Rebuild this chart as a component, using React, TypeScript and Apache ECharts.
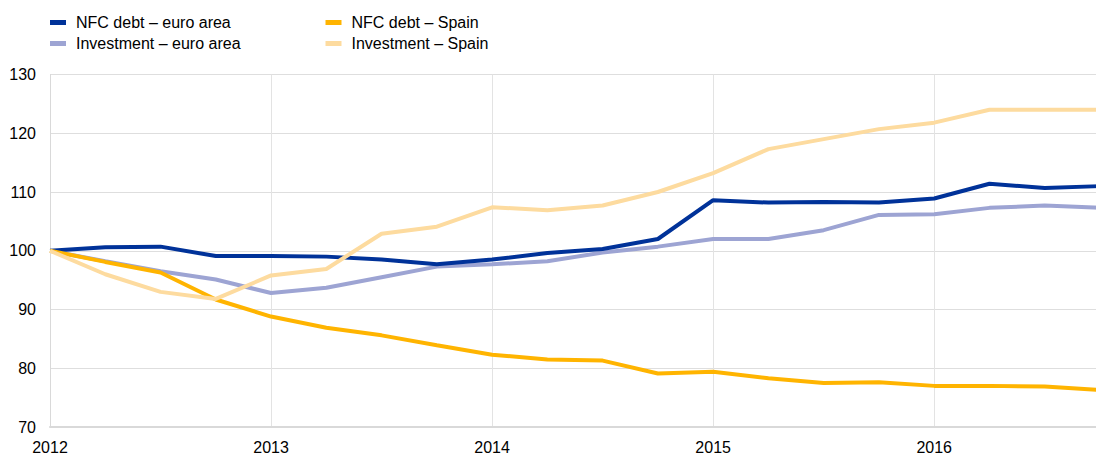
import React, { useEffect, useRef } from "react";
import * as echarts from "echarts";

const startYear = 2012;
const quarterStep = 0.25;
const yTicks = { min: 70, max: 130, interval: 10 };
const xTicks = { min: 2012, max: 2016.75, interval: 1 };

const nfcDebtEuroArea = [100, 100.6, 100.7, 99.1, 99.1, 99.0, 98.5, 97.7, 98.5, 99.6, 100.3, 102.0, 108.6, 108.2, 108.3, 108.2, 108.9, 111.4, 110.7, 111.0];
const investmentEuroArea = [100, 98.2, 96.5, 95.1, 92.8, 93.7, 95.5, 97.3, 97.7, 98.2, 99.7, 100.7, 102.0, 102.0, 103.5, 106.1, 106.2, 107.3, 107.7, 107.3];
const nfcDebtSpain = [100, 98.1, 96.3, 91.7, 88.8, 86.9, 85.6, 83.9, 82.3, 81.5, 81.3, 79.1, 79.4, 78.3, 77.5, 77.6, 77.0, 77.0, 76.9, 76.3];
const investmentSpain = [100, 96.0, 93.0, 91.8, 95.8, 96.9, 102.9, 104.1, 107.4, 106.9, 107.7, 110.0, 113.2, 117.3, 119.0, 120.7, 121.8, 124.0, 124.0, 124.0];

const names = {
  debtEA: "NFC debt – euro area",
  invEA: "Investment – euro area",
  debtES: "NFC debt – Spain",
  invES: "Investment – Spain",
};

const colors = {
  debtEA: "#003299",
  invEA: "#9da4d3",
  debtES: "#ffb400",
  invES: "#fddb9f",
};

const toPoints = (vals: number[]) => vals.map((v, i) => [startYear + i * quarterStep, v]);

export default function App() {
  const ref = useRef<HTMLDivElement>(null);
  useEffect(() => {
    if (!ref.current) return;
    const chart = echarts.init(ref.current, undefined, { renderer: "svg" });
    const font = "'Liberation Sans', Arial, sans-serif";
    const legendCommon = {
      orient: "vertical" as const,
      top: 12.5,
      padding: 0,
      itemWidth: 16,
      itemHeight: 5,
      itemGap: 1,
      icon: "rect",
      textStyle: {
        fontFamily: font,
        fontSize: 16,
        color: "#000",
        lineHeight: 20,
        padding: [0, 0, 0, 5],
      },
    };
    const mk = (key: keyof typeof names, vals: number[], z: number) => ({
      name: names[key],
      type: "line",
      data: toPoints(vals),
      showSymbol: false,
      symbol: "none",
      z,
      lineStyle: { color: colors[key], width: 4 },
      itemStyle: { color: colors[key] },
    });
    chart.setOption({
      animation: false,
      backgroundColor: "#fff",
      legend: [
        { ...legendCommon, left: 50, data: [names.debtEA, names.invEA] },
        { ...legendCommon, left: 325.5, data: [names.debtES, names.invES] },
      ],
      grid: { left: 50, width: 1050, top: 74.5, bottom: 27.5, containLabel: false },
      xAxis: {
        type: "value",
        min: xTicks.min,
        max: xTicks.max,
        interval: xTicks.interval,
        axisLine: { show: true, lineStyle: { color: "#d9d9d9", width: 2 } },
        axisTick: { show: false },
        splitLine: { show: true, lineStyle: { color: "#e3e3e3", width: 1 } },
        axisLabel: {
          margin: 12,
          fontFamily: font,
          fontSize: 16,
          color: "#000",
          formatter: (v: number) => (Number.isInteger(v) ? String(v) : ""),
        },
      },
      yAxis: {
        type: "value",
        min: yTicks.min,
        max: yTicks.max,
        interval: yTicks.interval,
        axisLine: { show: true, lineStyle: { color: "#d9d9d9", width: 1 } },
        axisTick: { show: false },
        splitLine: { show: true, lineStyle: { color: "#dedede", width: 1 } },
        axisLabel: { margin: 14, fontFamily: font, fontSize: 16, color: "#000" },
      },
      series: [
        mk("invEA", investmentEuroArea, 2),
        mk("debtEA", nfcDebtEuroArea, 3),
        mk("debtES", nfcDebtSpain, 4),
        mk("invES", investmentSpain, 5),
      ],
    });
    return () => chart.dispose();
  }, []);
  return (
    <div
      ref={ref}
      style={{ position: "fixed", left: 0, top: 0, width: 1110, height: 455 }}
    />
  );
}
